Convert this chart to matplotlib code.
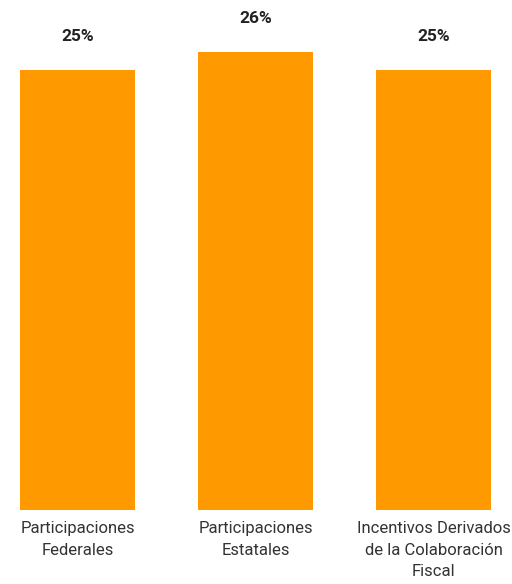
import matplotlib
matplotlib.use("Agg")
import matplotlib.pyplot as plt

plt.rcParams['font.family'] = ['Roboto', 'DejaVu Sans']

categories = ["Participaciones\nFederales", "Participaciones\nEstatales",
              "Incentivos Derivados\nde la Colaboración\nFiscal"]
values = [25, 26, 25]
value_labels = ["25%", "26%", "25%"]

fig = plt.figure(figsize=(5.12, 5.84), dpi=100)
ax = fig.add_axes([0, 74/584, 1, 510/584])
x = list(range(len(categories)))
bars = ax.bar(x, values, width=0.646, color="#FF9900")
ax.set_xlim(-0.435, 2.441)
ax.set_ylim(0, 28.95)
for b, lab in zip(bars, value_labels):
    ax.annotate(lab, (b.get_x() + b.get_width()/2, b.get_height()),
                xytext=(0, 24), textcoords="offset points", ha="center", va="center",
                fontsize=12.5, fontweight="bold", color="#222222")
ax.set_xticks(x)
ax.set_xticklabels(categories, fontsize=12, color="#333333", linespacing=1.55)
ax.tick_params(axis='x', length=0, pad=8)
ax.set_yticks([])
for s in ax.spines.values():
    s.set_visible(False)
fig.savefig("out.png", dpi=100)
